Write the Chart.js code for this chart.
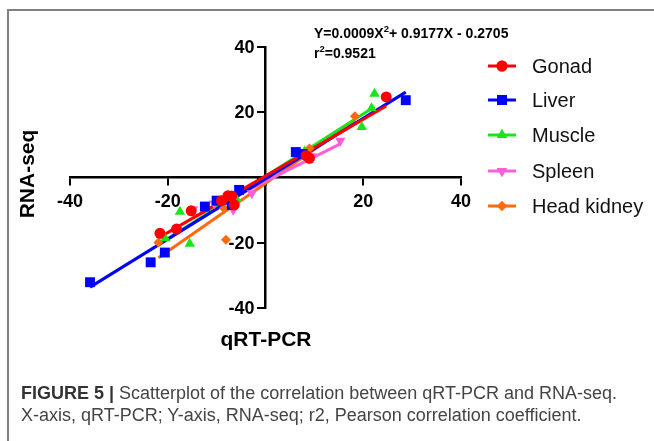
<!DOCTYPE html>
<html>
<head>
<meta charset="utf-8">
<script src="https://cdn.jsdelivr.net/npm/chart.js@4.4.1/dist/chart.umd.min.js"></script>
<style>
  body { margin: 0; background: #fff; }
  .frame { position: absolute; left: 7px; top: 9px; width: 700px; height: 480px;
           border-left: 2px solid #808080; border-top: 2px solid #808080; }
  .wrap { position: absolute; left: 0; top: 0; width: 654px; height: 441px; }
  .caption { position: absolute; left: 21px; top: 382px; width: 632px;
             font-family: "Liberation Sans Narrow", "Arial Narrow", "Liberation Sans", sans-serif;
             font-size: 18px; line-height: 22px; color: #444; white-space: nowrap; }
  .caption b { color: #333; }
</style>
</head>
<body>
<div class="frame"></div>
<div class="wrap"><canvas id="myChart"></canvas></div>
<div class="caption"><b>FIGURE 5 |</b> Scatterplot of the correlation between qRT-PCR and RNA-seq.<br>X-axis, qRT-PCR; Y-axis, RNA-seq; r2, Pearson correlation coefficient.</div>
<script>
const seriesNames = ['Gonad', 'Liver', 'Muscle', 'Spleen', 'Head kidney'];

const gonadX = [-21.6, -18.2, -15.2, -9.0, -7.7, -6.9, -6.4, 8.3, 9.0, 24.7];
const gonadY = [-17.1, -15.8, -10.2, -7.1, -5.6, -5.7, -8.4, 6.7, 5.9, 24.7];

const liverX = [-35.9, -23.5, -20.6, -12.4, -10.0, -6.9, -5.4, 6.2, 7.6, 28.7];
const liverY = [-32.1, -26.0, -23.0, -8.9, -7.1, -8.4, -3.8, 7.8, 7.2, 23.7];

const muscleX = [-20.5, -17.5, -15.5, -6.0, 8.0, 19.7, 21.7, 22.3];
const muscleY = [-18.6, -10.5, -20.3, -6.5, 8.0, 15.5, 21.2, 25.7];

const spleenX = [-14.8, -10.5, -6.6, -2.8, 9.5, 15.3];
const spleenY = [-9.7, -8.0, -9.9, -4.8, 6.5, 11.3];

const kidneyX = [-21.9, -8.5, -8.1, 9.0, 18.3];
const kidneyY = [-19.9, -9.4, -19.1, 8.9, 18.8];

const axisTicks = [-40, -20, 0, 20, 40];
const equationText = 'Y=0.0009X';
const equationRest = '+ 0.9177X - 0.2705';
const r2Text = '=0.9521';

const colors = ['#ff0000', '#0000ff', '#19e619', '#ff5fd6', '#ff6a0f'];
const styles = ['circle', 'rect', 'triangle', 'triangle', 'rectRot'];
const rotations = [0, 0, 0, 180, 0];
const radii = [5.5, 7, 6, 6, 5];

const xs = [gonadX, liverX, muscleX, spleenX, kidneyX];
const ys = [gonadY, liverY, muscleY, spleenY, kidneyY];

// least squares line for each series
function fitLine(x, y) {
  const n = x.length;
  const mx = x.reduce((a, b) => a + b, 0) / n;
  const my = y.reduce((a, b) => a + b, 0) / n;
  let sxy = 0, sxx = 0;
  for (let i = 0; i < n; i++) {
    sxy += (x[i] - mx) * (y[i] - my);
    sxx += (x[i] - mx) * (x[i] - mx);
  }
  const b = sxy / sxx;
  const a = my - b * mx;
  const lo = Math.min(...x), hi = Math.max(...x);
  return [{x: lo, y: a + b * lo}, {x: hi, y: a + b * hi}];
}

const datasets = [];
seriesNames.forEach((name, i) => {
  datasets.push({
    label: name,
    data: xs[i].map((v, j) => ({x: v, y: ys[i][j]})),
    backgroundColor: colors[i],
    borderColor: colors[i],
    pointStyle: styles[i],
    rotation: rotations[i],
    pointRadius: radii[i],
    pointBorderWidth: 0,
    showLine: false,
    order: 1
  });
});
seriesNames.forEach((name, i) => {
  datasets.push({
    label: name + ' fit',
    data: fitLine(xs[i], ys[i]),
    borderColor: colors[i],
    borderWidth: 3,
    pointRadius: 0,
    showLine: true,
    order: 2
  });
});

const FONT = '"Liberation Sans", Arial, sans-serif';

const extras = {
  id: 'extras',
  afterDraw(chart) {
    const ctx = chart.ctx;
    ctx.save();
    ctx.fillStyle = '#000';

    // y tick labels, left of the centred axis
    const ys_ = chart.scales.y, xs_ = chart.scales.x;
    const axisX = xs_.getPixelForValue(0);
    ctx.font = 'bold 18px ' + FONT;
    ctx.textAlign = 'right';
    ctx.textBaseline = 'middle';
    axisTicks.forEach(v => {
      if (v === 0) return;
      ctx.fillText(String(v), axisX - 11, ys_.getPixelForValue(v) + 1);
    });

    // equation
    ctx.font = 'bold 14px ' + FONT;
    ctx.textAlign = 'left';
    let x = 314;
    ctx.fillText(equationText, x, 34);
    x += ctx.measureText(equationText).width;
    ctx.font = 'bold 9.5px ' + FONT;
    ctx.fillText('2', x, 29);
    x += ctx.measureText('2').width;
    ctx.font = 'bold 14px ' + FONT;
    ctx.fillText(equationRest, x, 34);
    x = 314;
    ctx.fillText('r', x, 54);
    x += ctx.measureText('r').width;
    ctx.font = 'bold 9.5px ' + FONT;
    ctx.fillText('2', x, 49);
    x += ctx.measureText('2').width;
    ctx.font = 'bold 14px ' + FONT;
    ctx.fillText(r2Text, x, 54);

    // axis titles
    ctx.font = 'bold 21px ' + FONT;
    ctx.textAlign = 'center';
    ctx.fillText('qRT-PCR', 266, 340);
    ctx.save();
    ctx.translate(28, 174);
    ctx.rotate(-Math.PI / 2);
    ctx.fillText('RNA-seq', 0, 0);
    ctx.restore();

    // legend: line with marker
    ctx.textAlign = 'left';
    ctx.font = '20px ' + FONT;
    const rows = [66, 100, 135, 171, 206];
    seriesNames.forEach((name, i) => {
      const yy = rows[i];
      ctx.strokeStyle = colors[i];
      ctx.lineWidth = 3;
      ctx.beginPath();
      ctx.moveTo(488, yy);
      ctx.lineTo(516, yy);
      ctx.stroke();
      ctx.fillStyle = colors[i];
      Chart.helpers.drawPoint(ctx, {pointStyle: styles[i], rotation: rotations[i], radius: radii[i], borderWidth: 0}, 502, yy);
      ctx.fill();
      ctx.fillStyle = '#111';
      ctx.fillText(name, 532, yy + 1);
    });
    ctx.restore();
  }
};

const axisFont = {family: FONT, size: 18, weight: 'bold'};

const config = {
  type: 'scatter',
  data: {datasets},
  options: {
    responsive: true,
    maintainAspectRatio: false,
    animation: false,
    layout: {padding: {left: 70, right: 193, top: 47, bottom: 133}},
    plugins: {legend: {display: false}, tooltip: {enabled: false}},
    scales: {
      x: {
        type: 'linear',
        position: {y: 0},
        min: -40, max: 40,
        afterBuildTicks: (s) => { s.ticks = axisTicks.map(v => ({value: v})); },
        ticks: {font: axisFont, color: '#000', padding: 7, callback: v => v === 0 ? '' : v},
        grid: {drawOnChartArea: false, drawTicks: true, tickLength: 7, color: '#000', lineWidth: 2},
        border: {color: '#000', width: 2.5}
      },
      y: {
        type: 'linear',
        position: {x: 0},
        min: -40, max: 40,
        afterBuildTicks: (s) => { s.ticks = axisTicks.map(v => ({value: v})); },
        ticks: {font: axisFont, color: '#000', callback: () => ''},
        grid: {drawOnChartArea: false, drawTicks: true, tickLength: 7, color: '#000', lineWidth: 2},
        border: {color: '#000', width: 2.5}
      }
    }
  },
  plugins: [extras]
};

const myChart = new Chart(document.getElementById('myChart').getContext('2d'), config);
</script>
</body>
</html>
